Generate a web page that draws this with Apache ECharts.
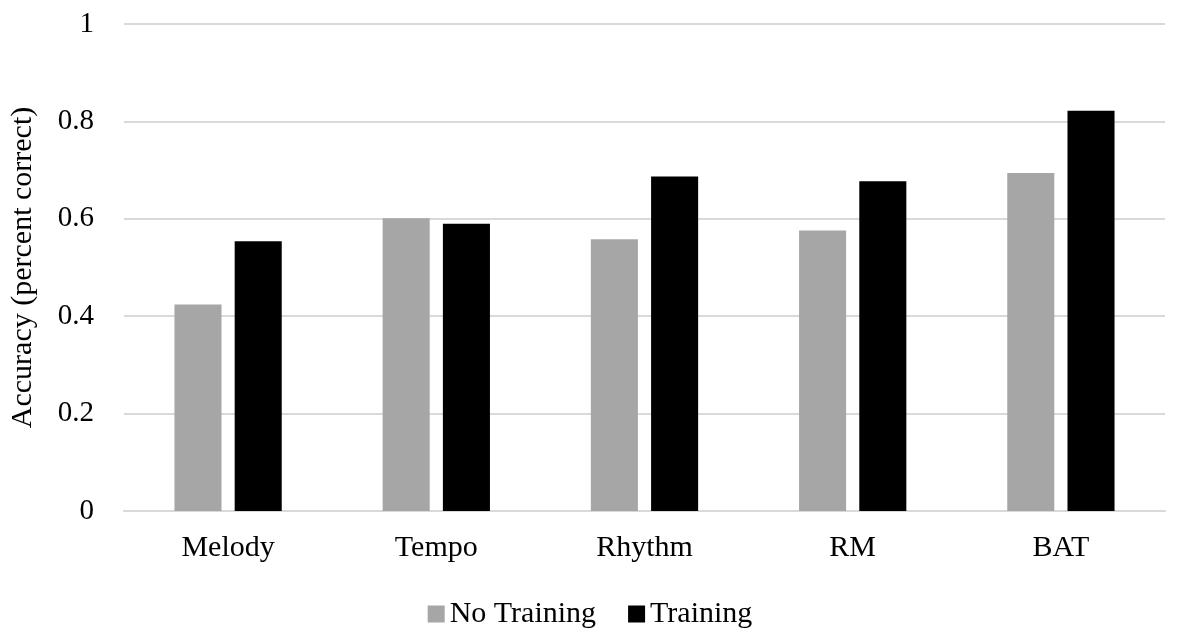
<!DOCTYPE html>
<html>
<head>
<meta charset="utf-8">
<script src="https://cdn.jsdelivr.net/npm/echarts@6/dist/echarts.min.js"></script>
<style>
  html, body { margin: 0; padding: 0; background: #fff; }
  #main { width: 1180px; height: 631px; }
</style>
</head>
<body>
<div id="main"></div>
<script>
var categories = ['Melody', 'Tempo', 'Rhythm', 'RM', 'BAT'];
var noTraining = [0.424, 0.601, 0.558, 0.576, 0.694];
var training = [0.554, 0.590, 0.687, 0.677, 0.822];
var seriesNames = ['No Training', 'Training'];

var myChart = echarts.init(document.getElementById('main'));
var font = '"Liberation Serif", "Times New Roman", serif';

var option = {
    backgroundColor: '#fff',
    textStyle: { fontFamily: font },
    grid: {
        left: 124,
        right: 15,
        top: 24,
        bottom: 120
    },
    legend: {
        data: seriesNames,
        bottom: -3,
        left: 'center',
        itemWidth: 17,
        itemHeight: 17,
        itemGap: 32,
        icon: 'rect',
        textStyle: { fontFamily: font, fontSize: 30, color: '#000', padding: [0, 0, 0, 0] }
    },
    xAxis: {
        type: 'category',
        data: categories,
        axisLine: { lineStyle: { color: '#d9d9d9', width: 2 } },
        axisTick: { show: false },
        axisLabel: { fontFamily: font, fontSize: 30, color: '#000', margin: 22 }
    },
    yAxis: {
        type: 'value',
        min: 0,
        max: 1,
        interval: 0.2,
        name: 'Accuracy (percent correct)',
        nameLocation: 'middle',
        nameGap: 86,
        nameTextStyle: { fontFamily: font, fontSize: 30, color: '#000' },
        axisLine: { show: false },
        axisTick: { show: false },
        splitLine: { lineStyle: { color: '#d9d9d9', width: 2 } },
        axisLabel: { fontFamily: font, fontSize: 29, color: '#000', margin: 30,
            formatter: function (v) { return String(Math.round(v * 10) / 10); } }
    },
    series: [
        {
            name: seriesNames[0],
            type: 'bar',
            data: noTraining,
            barWidth: '22.6%',
            barGap: '28%',
            itemStyle: { color: '#a6a6a6' }
        },
        {
            name: seriesNames[1],
            type: 'bar',
            data: training,
            barWidth: '22.6%',
            itemStyle: { color: '#000000' }
        }
    ]
};

myChart.setOption(option);
</script>
</body>
</html>
